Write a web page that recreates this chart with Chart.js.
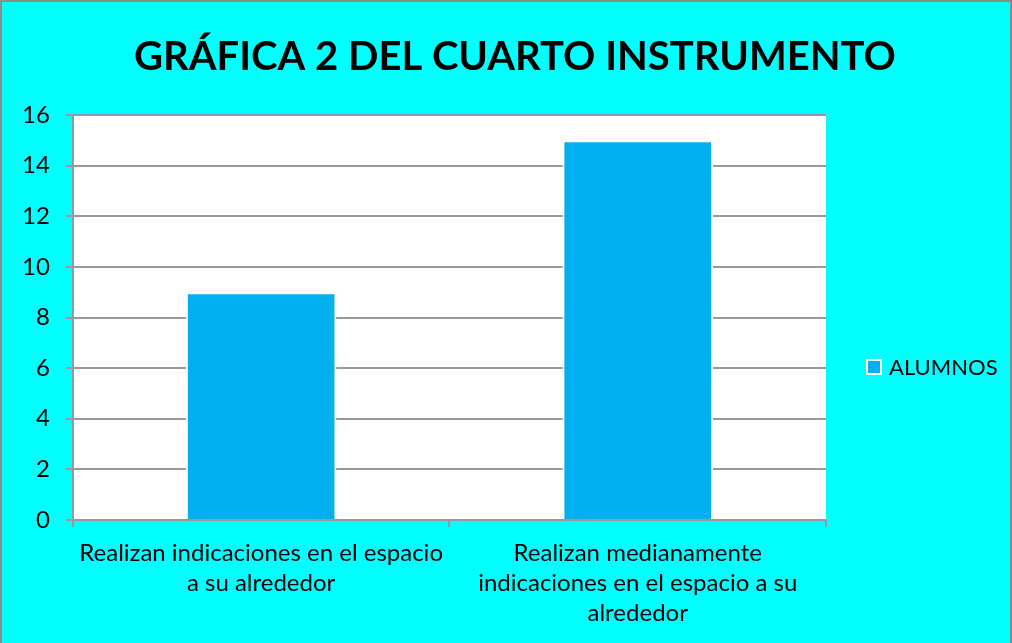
<!DOCTYPE html>
<html>
<head>
<meta charset="utf-8">
<script src="https://cdn.jsdelivr.net/npm/chart.js@4/dist/chart.umd.min.js"></script>
<style>
    html, body { margin: 0; padding: 0; background: #00FFFF; }
    #wrap { position: relative; width: 1012px; height: 643px; box-sizing: border-box; border: 2px solid #8c8c8c; border-bottom: none; }
</style>
</head>
<body>
<div id="wrap"><canvas id="chart"></canvas></div>
<script>
// Chart data
const chartTitle = 'GRÁFICA 2 DEL CUARTO INSTRUMENTO';
const categories = [
    ['Realizan indicaciones en el espacio', 'a su alrededor'],
    ['Realizan medianamente', 'indicaciones en el espacio a su', 'alrededor']
];
const seriesName = 'ALUMNOS';
const alumnos = [9, 15];
const yTicks = { min: 0, max: 16, step: 2 };

const FONT = 'Lato, "Open Sans", sans-serif';
const GRID = '#999999';
const BAR = '#00B0F0';

// white plot area behind the bars
const plotBackground = {
    id: 'plotBackground',
    beforeDraw(chart) {
        const { ctx, chartArea } = chart;
        ctx.save();
        ctx.fillStyle = '#ffffff';
        ctx.fillRect(chartArea.left, chartArea.top, chartArea.right - chartArea.left, chartArea.bottom - chartArea.top);
        ctx.restore();
    }
};

// title centred over the whole picture (not only the plot)
const wideTitle = {
    id: 'wideTitle',
    afterDraw(chart) {
        const { ctx } = chart;
        ctx.save();
        ctx.fillStyle = '#000000';
        ctx.font = 'bold 40px ' + FONT;
        ctx.textAlign = 'center';
        ctx.textBaseline = 'middle';
        ctx.fillText(chartTitle, chart.width / 2 + 9, 55);
        ctx.restore();
    }
};

// legend drawn to the right of the plot, a bit below its middle
const sideLegend = {
    id: 'sideLegend',
    afterDraw(chart) {
        const { ctx, chartArea } = chart;
        const ds = chart.data.datasets[0];
        const x = chartArea.right + 41;
        const y = 365;
        ctx.save();
        ctx.fillStyle = ds.backgroundColor;
        ctx.fillRect(x, y - 7, 14, 14);
        ctx.strokeStyle = '#ffffff';
        ctx.lineWidth = 2;
        ctx.strokeRect(x, y - 7, 14, 14);
        ctx.fillStyle = '#000000';
        ctx.font = '22px ' + FONT;
        ctx.textBaseline = 'middle';
        ctx.fillText(ds.label, x + 22, y + 1);
        ctx.restore();
    }
};

const ctx = document.getElementById('chart').getContext('2d');
new Chart(ctx, {
    type: 'bar',
    data: {
        labels: categories,
        datasets: [{
            label: seriesName,
            data: alumnos,
            backgroundColor: BAR,
            borderColor: '#ffffff',
            borderWidth: 2,
            barPercentage: 0.4,
            categoryPercentage: 1
        }]
    },
    options: {
        responsive: true,
        maintainAspectRatio: false,
        animation: false,
        layout: { padding: { left: 4, right: 184, top: 113, bottom: 4 } },
        plugins: {
            title: { display: false },
            legend: { display: false },
            tooltip: { enabled: false }
        },
        scales: {
            x: {
                offset: true,
                grid: {
                    display: true,
                    offset: true,
                    drawOnChartArea: false,
                    drawTicks: true,
                    tickLength: 7,
                    color: GRID,
                    lineWidth: 2
                },
                border: { color: GRID, width: 2 },
                ticks: {
                    color: '#000000',
                    font: { family: FONT, size: 24, lineHeight: 1.25 },
                    maxRotation: 0,
                    autoSkip: false,
                    padding: 11
                }
            },
            y: {
                min: yTicks.min,
                max: yTicks.max,
                grid: {
                    color: GRID,
                    lineWidth: 2,
                    tickLength: 7
                },
                border: { color: GRID, width: 2 },
                ticks: {
                    stepSize: yTicks.step,
                    color: '#000000',
                    font: { family: FONT, size: 24 },
                    padding: 16
                }
            }
        }
    },
    plugins: [plotBackground, wideTitle, sideLegend]
});
</script>
</body>
</html>
